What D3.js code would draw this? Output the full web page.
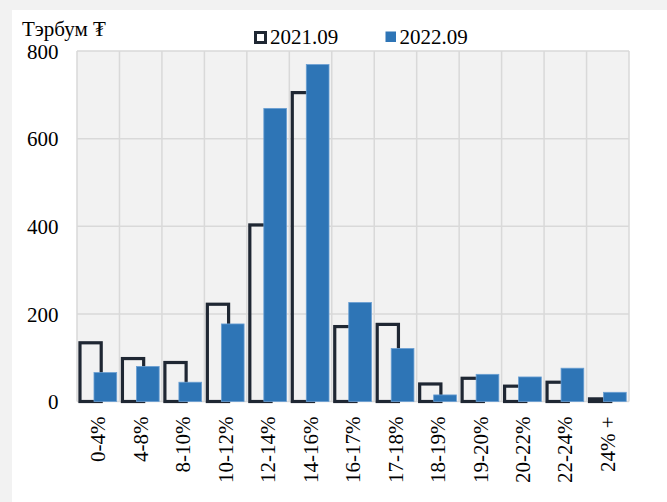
<!DOCTYPE html>
<html><head><meta charset="utf-8">
<script src="https://cdn.jsdelivr.net/npm/d3@7"></script>
<style>
html,body{margin:0;padding:0;background:#f2f2f2;}
svg{display:block;}
text{font-family:"Liberation Serif","Times New Roman",serif;fill:#000;}
</style></head>
<body>
<svg id="c" width="667" height="502"></svg>
<script>
const categories = ["0-4%","4-8%","8-10%","10-12%","12-14%","14-16%","16-17%","17-18%","18-19%","19-20%","20-22%","22-24%","24% +"];
const series2021 = [134, 98, 89, 222, 403, 705, 171, 176, 40, 53, 35, 44, 6];
const series2022 = [66, 80, 44, 177, 669, 769, 226, 121, 15, 62, 56, 76, 21];
const seriesNames = ["2021.09", "2022.09"];
const yTicks = [0, 200, 400, 600, 800];
const unitLabel = "Тэрбум ₮";

(function(){
const FS = 21;
const svg = d3.select("#c");
svg.append("rect").attr("x",12).attr("y",10).attr("width",655).attr("height",492).attr("fill","#fff");

const pL = 77, pR = 629, pT = 51, pB = 401.5;
const x = d3.scaleBand().domain(categories).range([pL, pR]).paddingInner(0).paddingOuter(0);
const y = d3.scaleLinear().domain([0, 800]).range([pB, pT]);
const bw = x.bandwidth();

// plot area
svg.append("rect").attr("x",pL).attr("y",pT).attr("width",pR-pL).attr("height",pB-pT).attr("fill","#f2f2f2");
const grid = svg.append("g").attr("stroke","#d9d9d9").attr("stroke-width",1.5);
grid.selectAll("line.h").data(yTicks).join("line").attr("class","h")
  .attr("x1",pL).attr("x2",pR).attr("y1",d=>y(d)).attr("y2",d=>y(d));
const bounds = categories.map(c=>x(c)).concat([pR]);
grid.selectAll("line.v").data(bounds).join("line").attr("class","v")
  .attr("x1",d=>d).attr("x2",d=>d).attr("y1",pT).attr("y2",pB);

// bars 2021 (outline)
svg.append("g").selectAll("rect").data(categories).join("rect")
  .attr("x",(d)=>x(d)+bw*0.07)
  .attr("width",bw*0.5)
  .attr("y",(d,i)=>y(series2021[i]))
  .attr("height",(d,i)=>pB-y(series2021[i]))
  .attr("fill","none").attr("stroke","#1f2733").attr("stroke-width",3.2);

// bars 2022 (filled)
svg.append("g").selectAll("rect").data(categories).join("rect")
  .attr("x",(d)=>x(d)+bw*0.4)
  .attr("width",bw*0.535)
  .attr("y",(d,i)=>y(series2022[i]))
  .attr("height",(d,i)=>pB-y(series2022[i]))
  .attr("fill","#2e75b6").attr("stroke","#6a9fd3").attr("stroke-width",0.8);

// y axis
const yAxis = d3.axisLeft(y).tickValues(yTicks).tickSize(0).tickPadding(0).tickFormat(d3.format("d"));
const ya = svg.append("g").attr("transform",`translate(${pL-18.5},0)`).call(yAxis);
ya.select(".domain").remove();
ya.selectAll("text").attr("font-size",FS).attr("font-family","Liberation Serif").attr("fill","#000").attr("dy","0.34em");

// x axis
const xAxis = d3.axisBottom(x).tickSize(0).tickPadding(0);
const xa = svg.append("g").attr("transform",`translate(0,${pB})`).call(xAxis);
xa.select(".domain").remove();
xa.selectAll("text")
  .attr("font-size",FS).attr("font-family","Liberation Serif").attr("fill","#000")
  .attr("text-anchor","end").attr("transform","rotate(-90)")
  .attr("x",-15).attr("y",0).attr("dy","0.34em");

// unit label
svg.append("text").attr("x",22).attr("y",35.5).attr("font-size",FS).text(unitLabel);

// legend
const lg = svg.append("g");
lg.append("rect").attr("x",255.5).attr("y",32.5).attr("width",10).attr("height",10)
  .attr("fill","#fff").attr("stroke","#1f2733").attr("stroke-width",3);
lg.append("text").attr("x",270).attr("y",43.5).attr("font-size",FS).text(seriesNames[0]);
lg.append("rect").attr("x",385.5).attr("y",31.5).attr("width",10.5).attr("height",10.5).attr("fill","#2e75b6");
lg.append("text").attr("x",399.5).attr("y",43.5).attr("font-size",FS).text(seriesNames[1]);
})();
</script>
</body></html>
